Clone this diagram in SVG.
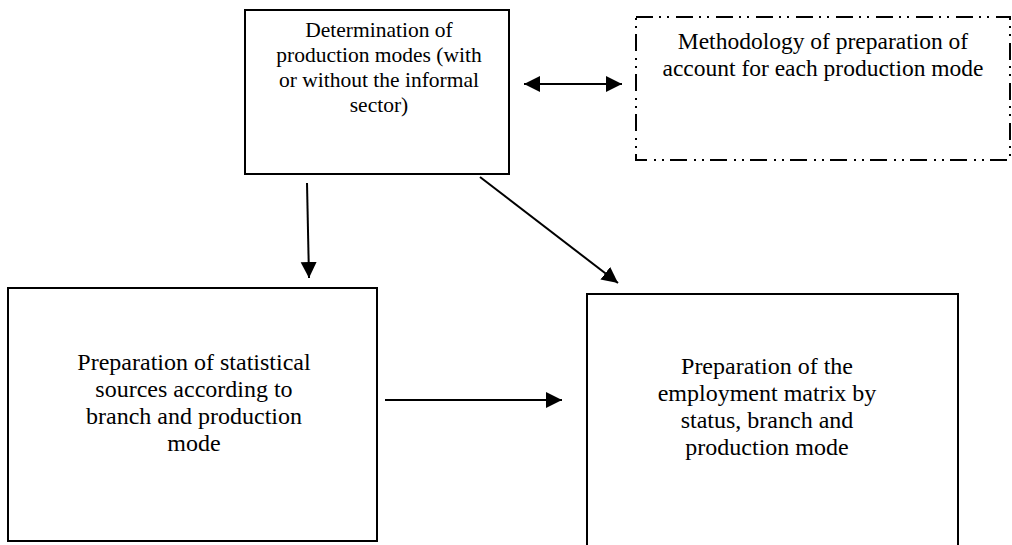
<svg xmlns="http://www.w3.org/2000/svg" width="1012" height="545" viewBox="0 0 1012 545">
<style>
.box{fill:#fff;stroke:#000;stroke-width:2}
.dbox{fill:none;stroke:#000;stroke-width:2;stroke-dasharray:17 6 2 6 2 7}
.t{font-family:'Liberation Serif','Times New Roman',Tinos,'DejaVu Serif','Noto Serif',serif;fill:#000;text-anchor:middle}
.conn{stroke:#000;stroke-width:2;fill:none}
</style>
<defs>
<marker id="ah" markerWidth="18" markerHeight="18" refX="16" refY="8" orient="auto-start-reverse" markerUnits="userSpaceOnUse">
<path d="M0,0 L16,8 L0,16 Z" fill="#000"/>
</marker>
</defs>
<rect width="1012" height="545" fill="#fff"/>
<g id="node-determination">
<rect class="box" x="245" y="10" width="264" height="164" stroke-width="2.5"/>
<text class="t" font-family="Liberation Serif, Times New Roman, DejaVu Serif, serif" font-size="21.5"><tspan x="379" y="37">Determination of</tspan><tspan x="379" y="62">production modes (with</tspan><tspan x="379" y="87">or without the informal</tspan><tspan x="379" y="112">sector)</tspan></text>
</g>
<g id="node-methodology">
<rect class="dbox" x="636" y="17" width="374" height="143"/>
<text class="t" font-family="Liberation Serif, Times New Roman, DejaVu Serif, serif" font-size="23.5"><tspan x="823" y="49">Methodology of preparation of</tspan><tspan x="823" y="76">account for each production mode</tspan></text>
</g>
<g id="node-sources">
<rect class="box" x="8" y="288" width="369" height="253"/>
<text class="t" font-family="Liberation Serif, Times New Roman, DejaVu Serif, serif" font-size="24"><tspan x="194" y="370">Preparation of statistical</tspan><tspan x="194" y="397">sources according to</tspan><tspan x="194" y="424">branch and production</tspan><tspan x="194" y="451">mode</tspan></text>
</g>
<g id="node-matrix">
<rect class="box" x="587" y="294" width="371" height="260"/>
<text class="t" font-family="Liberation Serif, Times New Roman, DejaVu Serif, serif" font-size="24"><tspan x="767" y="374">Preparation of the</tspan><tspan x="767" y="401">employment matrix by</tspan><tspan x="767" y="428">status, branch and</tspan><tspan x="767" y="455">production mode</tspan></text>
</g>
<g id="connectors">
<line class="conn" x1="524" y1="84" x2="622" y2="84" marker-start="url(#ah)" marker-end="url(#ah)"/>
<line class="conn" x1="307" y1="183" x2="309" y2="278" marker-end="url(#ah)"/>
<line class="conn" x1="480" y1="177" x2="618" y2="283" marker-end="url(#ah)"/>
<line class="conn" x1="385" y1="400" x2="562" y2="400" marker-end="url(#ah)"/>
</g>
</svg>
